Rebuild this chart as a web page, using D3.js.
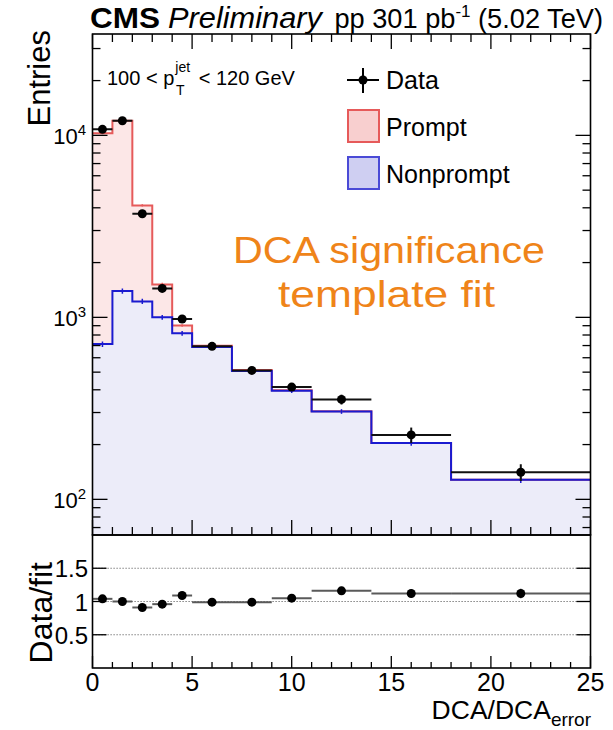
<!DOCTYPE html>
<html>
<head>
<meta charset="utf-8">
<script src="https://cdn.jsdelivr.net/npm/d3@7"></script>
<style>
  html, body { margin: 0; padding: 0; background: #fff; }
  svg { display: block; }
  text { font-family: "Liberation Sans", Arial, Helvetica, sans-serif; fill: #000; }
</style>
</head>
<body>
<svg id="chart" width="613" height="730"></svg>
<script>
// Histogram binning in DCA significance (variable-width bins)
const binEdges = [0, 1, 2, 3, 4, 5, 7, 9, 11, 14, 18, 25];

// Measured data counts and their uncertainties
const dataCounts = [10790, 12030, 3710, 1443, 979, 693, 511, 414, 354, 226, 141];
const dataErrors = [200, 220, 90, 45, 35, 20, 18, 20, 22, 22, 15];

// Fitted template components (stacked: nonprompt at the bottom, prompt on top)
const promptCounts = [9550, 10640, 2900, 518, 86, 11, 5, 3, 1, 0, 0];
const nonpromptCounts = [713, 1395, 1224, 1000, 817, 687, 508, 395, 304, 204, 128];
const promptErrors = [120, 130, 60, 30, 15, 8, 6, 5, 4, 3, 2];
const nonpromptErrors = [25, 45, 40, 30, 25, 18, 14, 11, 9, 7, 5];

// Data / fit ratio
const ratioValues = [1.04, 1.00, 0.91, 0.96, 1.09, 0.99, 0.99, 1.05, 1.16, 1.12, 1.12];
const ratioErrors = [0.02, 0.02, 0.03, 0.03, 0.045, 0.035, 0.04, 0.05, 0.06, 0.065, 0.07];

// Axis tick labels
const xTickLabels = [0, 5, 10, 15, 20, 25];
const yMainDecades = [100, 1000, 10000];
const yRatioTicks = [0.5, 1, 1.5];

const svg = d3.select("#chart");

// Frame geometry
const left = 92.5, right = 590.5;
const mainTop = 34, mainBottom = 535;
const ratioTop = 535, ratioBottom = 668;

const x = d3.scaleLinear().domain([0, 25]).range([left, right]);
const yMain = d3.scaleLog().domain([63.7, 36060]).range([mainBottom, mainTop]);
const yRatio = d3.scaleLinear().domain([0, 2]).range([ratioBottom, ratioTop]);

const bins = dataCounts.map((d, i) => ({
  x0: binEdges[i], x1: binEdges[i + 1], xc: (binEdges[i] + binEdges[i + 1]) / 2,
  data: d, dataErr: dataErrors[i],
  prompt: promptCounts[i], nonprompt: nonpromptCounts[i],
  total: promptCounts[i] + nonpromptCounts[i],
  pErr: promptErrors[i], npErr: nonpromptErrors[i],
  ratio: ratioValues[i], ratioErr: ratioErrors[i]
}));

// Step outline points for a histogram
function steps(key) {
  const pts = [];
  bins.forEach(b => { pts.push([b.x0, b[key]]); pts.push([b.x1, b[key]]); });
  return pts;
}

svg.append("defs").append("clipPath").attr("id", "mainClip")
  .append("rect").attr("x", left).attr("y", mainTop)
  .attr("width", right - left).attr("height", mainBottom - mainTop);

const plot = svg.append("g").attr("clip-path", "url(#mainClip)");

const area = d3.area()
  .x(p => x(p[0]))
  .y0(mainBottom)
  .y1(p => yMain(Math.max(p[1], 1)));
const line = d3.line()
  .x(p => x(p[0]))
  .y(p => yMain(Math.max(p[1], 1)));

// Filled stack: prompt+nonprompt total, then nonprompt on top of it
plot.append("path").attr("d", area(steps("total"))).attr("fill", "#fce7e7");
plot.append("path").attr("d", area(steps("nonprompt"))).attr("fill", "#ececf9");

// Outlines
plot.append("path").attr("d", line(steps("total")))
  .attr("fill", "none").attr("stroke", "#e65a5a").attr("stroke-width", 2);
plot.append("path").attr("d", line(steps("nonprompt")))
  .attr("fill", "none").attr("stroke", "#1a1ad0").attr("stroke-width", 2);

// Template uncertainties at bin centres
plot.selectAll(".terr").data(bins.filter(b => b.prompt > 0)).join("line")
  .attr("x1", b => x(b.xc)).attr("x2", b => x(b.xc))
  .attr("y1", b => yMain(b.total - b.pErr)).attr("y2", b => yMain(b.total + b.pErr))
  .attr("stroke", "#e65a5a").attr("stroke-width", 1.5);
plot.selectAll(".nperr").data(bins).join("line")
  .attr("x1", b => x(b.xc)).attr("x2", b => x(b.xc))
  .attr("y1", b => yMain(b.nonprompt - b.npErr)).attr("y2", b => yMain(b.nonprompt + b.npErr))
  .attr("stroke", "#1a1ad0").attr("stroke-width", 1.5);

// Data points with error bars
const dataG = plot.append("g");
dataG.selectAll(".hx").data(bins).join("line")
  .attr("x1", b => x(b.x0)).attr("x2", b => x(b.x1))
  .attr("y1", b => yMain(b.data)).attr("y2", b => yMain(b.data))
  .attr("stroke", "#111").attr("stroke-width", 2);
dataG.selectAll(".vy").data(bins).join("line")
  .attr("x1", b => x(b.xc)).attr("x2", b => x(b.xc))
  .attr("y1", b => yMain(b.data - b.dataErr)).attr("y2", b => yMain(b.data + b.dataErr))
  .attr("stroke", "#111").attr("stroke-width", 2);
dataG.selectAll("circle").data(bins).join("circle")
  .attr("cx", b => x(b.xc)).attr("cy", b => yMain(b.data)).attr("r", 4.5)
  .attr("fill", "#000");

// ---- Ratio panel ----
const ratioG = svg.append("g");
ratioG.selectAll(".grid").data(yRatioTicks).join("line")
  .attr("x1", left).attr("x2", right)
  .attr("y1", d => yRatio(d)).attr("y2", d => yRatio(d))
  .attr("stroke", "#666").attr("stroke-width", 1.2).attr("stroke-dasharray", "1.2,1.8");
ratioG.selectAll(".rhx").data(bins).join("line")
  .attr("x1", b => x(b.x0)).attr("x2", b => x(b.x1))
  .attr("y1", b => yRatio(b.ratio)).attr("y2", b => yRatio(b.ratio))
  .attr("stroke", "#5a5a5a").attr("stroke-width", 2);
ratioG.selectAll(".rvy").data(bins).join("line")
  .attr("x1", b => x(b.xc)).attr("x2", b => x(b.xc))
  .attr("y1", b => yRatio(b.ratio - b.ratioErr)).attr("y2", b => yRatio(b.ratio + b.ratioErr))
  .attr("stroke", "#444").attr("stroke-width", 1.5);
ratioG.selectAll("circle").data(bins).join("circle")
  .attr("cx", b => x(b.xc)).attr("cy", b => yRatio(b.ratio)).attr("r", 4.5)
  .attr("fill", "#000");

// ---- Frames and ticks ----
const axes = svg.append("g").attr("stroke", "#000");
axes.append("rect").attr("x", left).attr("y", mainTop)
  .attr("width", right - left).attr("height", mainBottom - mainTop)
  .attr("fill", "none").attr("stroke-width", 1.6);
axes.append("rect").attr("x", left).attr("y", ratioTop)
  .attr("width", right - left).attr("height", ratioBottom - ratioTop)
  .attr("fill", "none").attr("stroke-width", 1.6);

const xMinor = x.ticks(25);
const isMajorX = t => t % 5 === 0;
// main panel: top and bottom x ticks; ratio panel: bottom x ticks
xMinor.forEach(t => {
  const len = isMajorX(t) ? 15 : 8;
  axes.append("line").attr("x1", x(t)).attr("x2", x(t))
    .attr("y1", mainTop).attr("y2", mainTop + len).attr("stroke-width", 1.3);
  axes.append("line").attr("x1", x(t)).attr("x2", x(t))
    .attr("y1", mainBottom).attr("y2", mainBottom - len).attr("stroke-width", 1.3);
  const rlen = isMajorX(t) ? 12 : 6;
  axes.append("line").attr("x1", x(t)).attr("x2", x(t))
    .attr("y1", ratioBottom).attr("y2", ratioBottom - rlen).attr("stroke-width", 1.3);
});

// main panel: log y ticks
const isDecade = v => Math.abs(Math.log10(v) - Math.round(Math.log10(v))) < 1e-9;
yMain.ticks().filter(v => v >= 63.7 && v <= 36060).forEach(v => {
  const len = isDecade(v) ? 15 : 8;
  axes.append("line").attr("x1", left).attr("x2", left + len)
    .attr("y1", yMain(v)).attr("y2", yMain(v)).attr("stroke-width", 1.3);
  axes.append("line").attr("x1", right).attr("x2", right - len)
    .attr("y1", yMain(v)).attr("y2", yMain(v)).attr("stroke-width", 1.3);
});

// ratio panel y ticks
yRatioTicks.forEach(v => {
  axes.append("line").attr("x1", left).attr("x2", left + 14)
    .attr("y1", yRatio(v)).attr("y2", yRatio(v)).attr("stroke-width", 1.3);
  axes.append("line").attr("x1", right).attr("x2", right - 14)
    .attr("y1", yRatio(v)).attr("y2", yRatio(v)).attr("stroke-width", 1.3);
});

// ---- Tick labels ----
const labels = svg.append("g");
yMainDecades.forEach(v => {
  const t = labels.append("text").attr("x", 86).attr("y", yMain(v) + 9)
    .attr("text-anchor", "end").attr("font-size", 22);
  t.append("tspan").text("10");
  t.append("tspan").attr("font-size", 15).attr("dy", -9).text(Math.round(Math.log10(v)));
});
yRatioTicks.forEach(v => {
  labels.append("text").attr("x", 88).attr("y", yRatio(v) + 9)
    .attr("text-anchor", "end").attr("font-size", 24).text(v);
});
xTickLabels.forEach(v => {
  labels.append("text").attr("x", x(v)).attr("y", 691)
    .attr("text-anchor", "middle").attr("font-size", 25).text(v);
});

// ---- Axis titles ----
labels.append("text").attr("transform", "translate(50,30) rotate(-90)")
  .attr("text-anchor", "end").attr("font-size", 31).text("Entries");
labels.append("text").attr("transform", "translate(52,562) rotate(-90)")
  .attr("text-anchor", "end").attr("font-size", 32).text("Data/fit");
const xt = labels.append("text").attr("x", 591).attr("y", 719)
  .attr("text-anchor", "end").attr("font-size", 26.5);
xt.append("tspan").text("DCA/DCA");
xt.append("tspan").attr("font-size", 19).attr("dy", 7).text("error");

// ---- Title ----
labels.append("text").attr("x", 90).attr("y", 28).attr("font-size", 30)
  .attr("font-weight", "bold").attr("textLength", 70).attr("lengthAdjust", "spacingAndGlyphs").text("CMS");
labels.append("text").attr("x", 168).attr("y", 28).attr("font-size", 30)
  .attr("font-style", "italic").attr("textLength", 154).attr("lengthAdjust", "spacingAndGlyphs").text("Preliminary");
const lumi = labels.append("text").attr("x", 603).attr("y", 28)
  .attr("text-anchor", "end").attr("font-size", 27.2);
lumi.append("tspan").text("pp 301 pb");
lumi.append("tspan").attr("font-size", 17).attr("dy", -11).text("-1");
lumi.append("tspan").attr("dy", 11).text(" (5.02 TeV)");

// ---- Kinematic selection label ----
const sel = labels.append("text").attr("x", 107).attr("y", 85).attr("font-size", 20);
sel.append("tspan").text("100 < p");
sel.append("tspan").attr("font-size", 14).attr("dx", 1).attr("dy", -13).text("jet");
sel.append("tspan").attr("font-size", 14).attr("dx", -14).attr("dy", 23).text("T");
sel.append("tspan").attr("dx", 14).attr("dy", -10).text("< 120 GeV");

// ---- Legend ----
const leg = svg.append("g");
leg.append("line").attr("x1", 347).attr("x2", 379).attr("y1", 80).attr("y2", 80)
  .attr("stroke", "#000").attr("stroke-width", 2);
leg.append("line").attr("x1", 363).attr("x2", 363).attr("y1", 68).attr("y2", 93)
  .attr("stroke", "#000").attr("stroke-width", 2);
leg.append("circle").attr("cx", 363).attr("cy", 80).attr("r", 4.5).attr("fill", "#000");
leg.append("text").attr("x", 386).attr("y", 89).attr("font-size", 25).text("Data");

leg.append("rect").attr("x", 348).attr("y", 110).attr("width", 31).attr("height", 32)
  .attr("fill", "#f8cfcf").attr("stroke", "#e65a5a").attr("stroke-width", 2);
leg.append("text").attr("x", 386).attr("y", 136).attr("font-size", 25).text("Prompt");

leg.append("rect").attr("x", 348).attr("y", 157).attr("width", 31).attr("height", 32)
  .attr("fill", "#cfcff2").attr("stroke", "#4a4ad6").attr("stroke-width", 2);
leg.append("text").attr("x", 386).attr("y", 183).attr("font-size", 25).text("Nonprompt");

// ---- Annotation ----
const note = svg.append("g");
note.append("text").attr("x", 233).attr("y", 263).attr("font-size", 37)
  .attr("font-family", "'Open Sans', sans-serif").style("fill", "#ef8419")
  .attr("textLength", 312).attr("lengthAdjust", "spacingAndGlyphs").text("DCA significance");
note.append("text").attr("x", 278).attr("y", 307).attr("font-size", 37)
  .attr("font-family", "'Open Sans', sans-serif").style("fill", "#ef8419")
  .attr("textLength", 217).attr("lengthAdjust", "spacingAndGlyphs").text("template fit");
</script>
</body>
</html>
